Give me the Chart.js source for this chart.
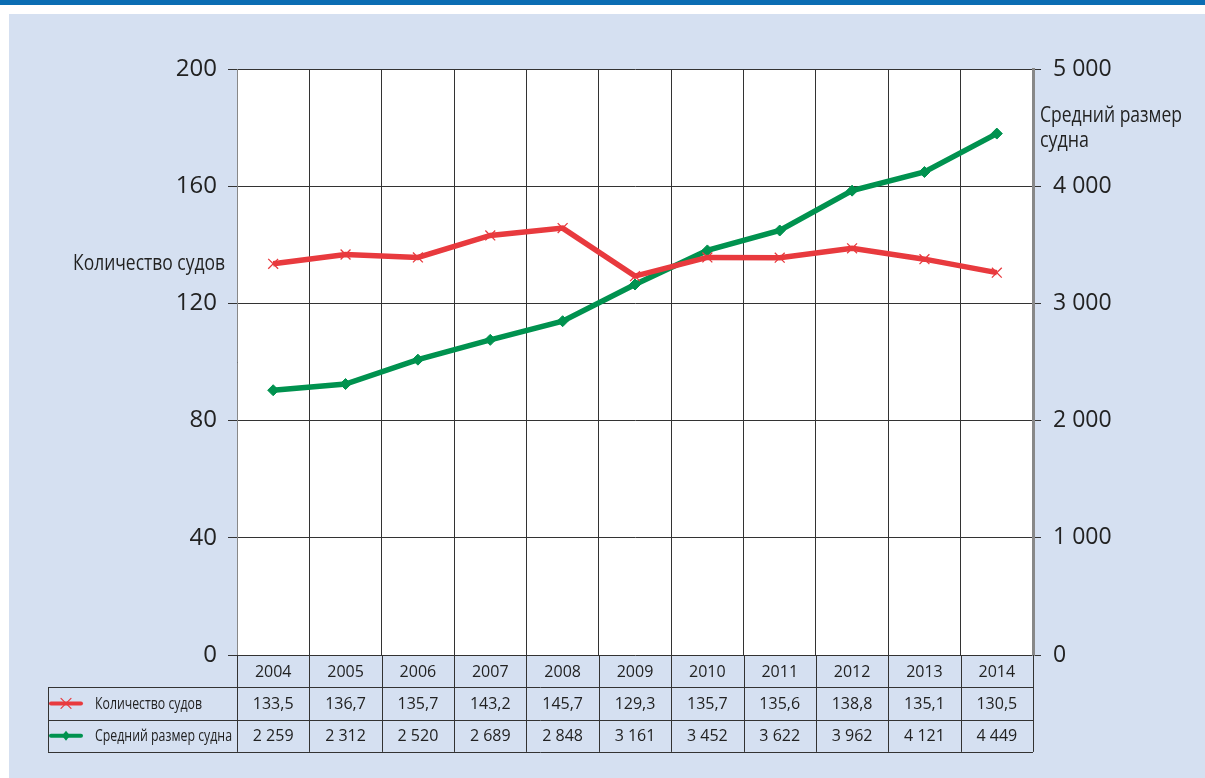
<!DOCTYPE html>
<html>
<head>
<meta charset="utf-8">
<script src="https://cdn.jsdelivr.net/npm/chart.js@4/dist/chart.umd.min.js"></script>
<style>
  html, body { margin: 0; padding: 0; background: #fff; }
  #wrap { width: 1205px; height: 778px; position: relative; }
</style>
</head>
<body>
<div id="wrap"><canvas id="chart" width="1205" height="778"></canvas></div>
<script>
const years = ['2004', '2005', '2006', '2007', '2008', '2009', '2010', '2011', '2012', '2013', '2014'];
const shipCount = [133.5, 136.7, 135.7, 143.2, 145.7, 129.3, 135.7, 135.6, 138.8, 135.1, 130.5];
const avgSize = [2259, 2312, 2520, 2689, 2848, 3161, 3452, 3622, 3962, 4121, 4449];
const countLabel = 'Количество судов';
const sizeLabel = 'Средний размер судна';
const sizeTitleLines = ['Средний размер', 'судна'];

const RED = '#e83a3e';
const GREEN = '#00924f';
const GRID = '#333333';
const REGULAR = '"Open Sans", "Noto Sans", sans-serif';

function spaced(n) {
    return String(n).replace(/\B(?=(\d{3})+(?!\d))/g, ' ');
}
function comma(n) {
    return n.toFixed(1).replace('.', ',');
}

// condensed look: squeeze text horizontally to a target width
function narrowText(ctx, text, x, y, size, width) {
    ctx.save();
    ctx.font = size + 'px ' + REGULAR;
    ctx.textAlign = 'left';
    ctx.textBaseline = 'middle';
    const w = ctx.measureText(text).width;
    ctx.translate(x, y);
    ctx.scale(width / w, 1);
    ctx.fillText(text, 0, 0);
    ctx.restore();
}

const backdrop = {
    id: 'backdrop',
    beforeDraw(chart) {
        const ctx = chart.ctx;
        const a = chart.chartArea;
        ctx.save();
        ctx.fillStyle = '#ffffff';
        ctx.fillRect(0, 0, chart.width, chart.height);
        ctx.fillStyle = '#0b6db3';
        ctx.fillRect(0, 0, chart.width, 5);
        ctx.fillStyle = '#d5e0f1';
        ctx.fillRect(9, 14, chart.width - 9, chart.height - 14);
        ctx.fillStyle = '#ffffff';
        ctx.fillRect(a.left, a.top, a.right - a.left, a.bottom - a.top);
        ctx.restore();
    }
};

function drawMarker(ctx, kind, x, y, color) {
    ctx.save();
    ctx.strokeStyle = color;
    ctx.fillStyle = color;
    ctx.lineWidth = 4;
    ctx.lineCap = 'round';
    ctx.beginPath();
    ctx.moveTo(x - 15, y);
    ctx.lineTo(x + 15, y);
    ctx.stroke();
    if (kind === 'cross') {
        ctx.lineWidth = 1.2;
        ctx.beginPath();
        ctx.moveTo(x - 5, y - 5); ctx.lineTo(x + 5, y + 5);
        ctx.moveTo(x + 5, y - 5); ctx.lineTo(x - 5, y + 5);
        ctx.stroke();
    } else {
        ctx.beginPath();
        ctx.moveTo(x, y - 5); ctx.lineTo(x + 4, y); ctx.lineTo(x, y + 5); ctx.lineTo(x - 4, y);
        ctx.closePath();
        ctx.fill();
    }
    ctx.restore();
}

const dataTable = {
    id: 'dataTable',
    afterDraw(chart) {
        const ctx = chart.ctx;
        const a = chart.chartArea;
        const xs = chart.scales.x;
        const n = years.length;
        const colW = (a.right - a.left) / n;
        const rowH = 32.3;
        const r0 = a.bottom, r1 = r0 + rowH, r2 = r1 + rowH, r3 = r2 + rowH;
        const legLeft = 48;

        ctx.save();
        ctx.strokeStyle = GRID;
        ctx.lineWidth = 1;
        ctx.beginPath();
        for (let i = 0; i <= n; i++) {
            const x = Math.round(a.left + i * colW) + 0.5;
            ctx.moveTo(x, r0);
            ctx.lineTo(x, r3);
        }
        ctx.moveTo(legLeft + 0.5, r1);
        ctx.lineTo(legLeft + 0.5, r3);
        [r1, r2, r3].forEach(y => {
            ctx.moveTo(legLeft, Math.round(y) + 0.5);
            ctx.lineTo(a.right, Math.round(y) + 0.5);
        });
        ctx.stroke();

        ctx.fillStyle = '#222';
        ctx.textAlign = 'center';
        ctx.textBaseline = 'middle';
        ctx.font = '16px ' + REGULAR;
        years.forEach((yr, i) => {
            const cx = xs.getPixelForValue(i);
            ctx.fillText(yr, cx, (r0 + r1) / 2 + 1);
            ctx.fillText(comma(shipCount[i]), cx, (r1 + r2) / 2 + 1);
            ctx.fillText(spaced(avgSize[i]), cx, (r2 + r3) / 2 + 1);
        });

        drawMarker(ctx, 'cross', 66, (r1 + r2) / 2, RED);
        drawMarker(ctx, 'diamond', 66, (r2 + r3) / 2, GREEN);
        ctx.fillStyle = '#222';
        narrowText(ctx, countLabel, 95, (r1 + r2) / 2 + 1, 16, 107);
        narrowText(ctx, sizeLabel, 95, (r2 + r3) / 2 + 1, 16, 137);

        // axis titles
        narrowText(ctx, countLabel, 73, 264, 22, 152);
        narrowText(ctx, sizeTitleLines[0], 1040, 116, 22, 142);
        narrowText(ctx, sizeTitleLines[1], 1040, 141, 22, 49);
        ctx.restore();
    }
};

new Chart(document.getElementById('chart'), {
    type: 'line',
    data: {
        labels: years,
        datasets: [
            {
                label: countLabel,
                data: shipCount,
                yAxisID: 'y',
                borderColor: RED,
                backgroundColor: RED,
                borderWidth: 5.5,
                pointStyle: 'crossRot',
                pointRadius: 7,
                pointBorderWidth: 1.3,
                pointBorderColor: RED,
                tension: 0
            },
            {
                label: sizeLabel,
                data: avgSize,
                yAxisID: 'y1',
                borderColor: GREEN,
                backgroundColor: GREEN,
                borderWidth: 5.5,
                pointStyle: 'rectRot',
                pointRadius: 5.5,
                pointBorderWidth: 1,
                pointBorderColor: GREEN,
                tension: 0
            }
        ]
    },
    options: {
        responsive: false,
        animation: false,
        layout: { padding: { top: 69, left: 0, right: 0, bottom: 0 } },
        plugins: {
            legend: { display: false },
            tooltip: { enabled: false }
        },
        scales: {
            x: {
                offset: true,
                grid: { offset: true, color: GRID, drawTicks: false, lineWidth: 1 },
                border: { display: false },
                ticks: { display: false },
                afterFit(s) { s.height = 123; }
            },
            y: {
                position: 'left',
                min: 0,
                max: 200,
                ticks: {
                    stepSize: 40,
                    color: '#222',
                    padding: 11,
                    font: { family: REGULAR, size: 24 }
                },
                grid: { color: GRID, tickLength: 9, lineWidth: 1 },
                border: { color: '#888', width: 1 },
                afterFit(s) { s.width = 237; }
            },
            y1: {
                position: 'right',
                min: 0,
                max: 5000,
                ticks: {
                    stepSize: 1000,
                    color: '#222',
                    padding: 12,
                    font: { family: REGULAR, size: 23 },
                    callback: v => spaced(v)
                },
                grid: { drawOnChartArea: false, color: GRID, tickLength: 8 },
                border: { color: '#888', width: 3 },
                afterFit(s) { s.width = 172; }
            }
        }
    },
    plugins: [backdrop, dataTable]
});
</script>
</body>
</html>
